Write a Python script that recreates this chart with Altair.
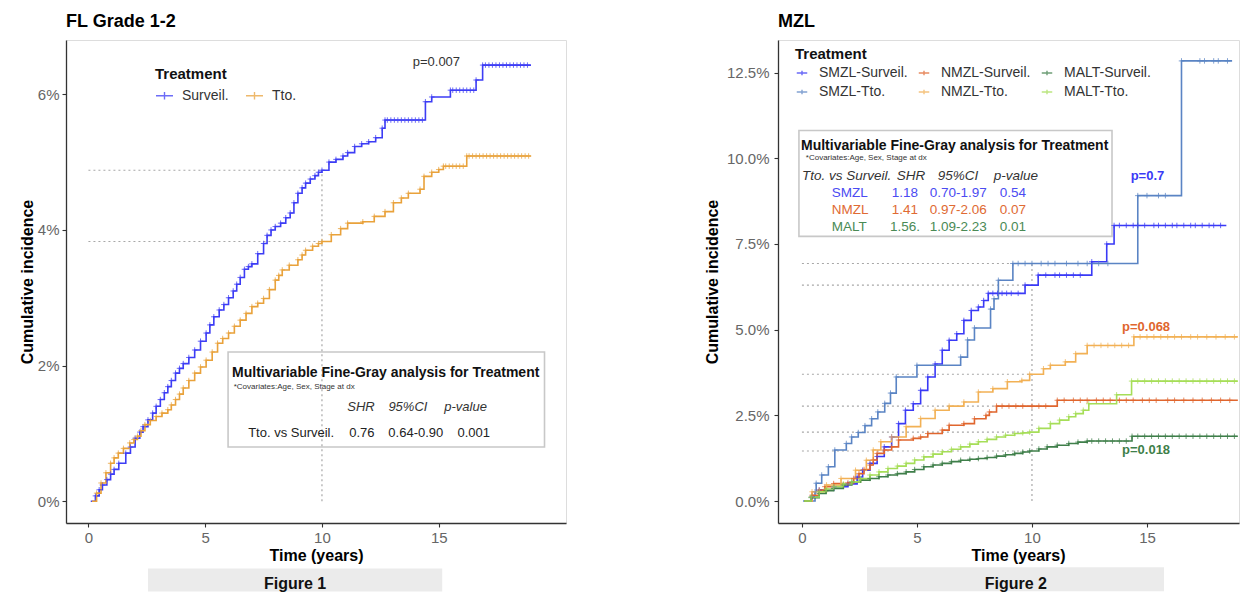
import altair as alt
import pandas as pd

FONT = "Liberation Sans"
PLUS = "M-1,0L1,0M0,-1L0,1"
KEY = "M-1,0L1,0M0,-0.45L0,0.45"

# ---------------- Figure 1 : FL Grade 1-2 ----------------
fl_groups = ["Surveil.", "Tto."]
fl_colors = ["#3D3DF5", "#E9A23B"]

fl_surv_t = [0.1, 0.3, 0.46, 0.6, 0.79, 0.95, 1.1, 1.3, 1.6, 1.8, 2.0, 2.2, 2.34, 2.55, 2.75, 2.9,
             3.08, 3.25, 3.4, 3.55, 3.73, 3.9, 4.06, 4.3, 4.55, 4.8, 5.04, 5.2, 5.37, 5.6, 5.8, 6.0,
             6.2, 6.35, 6.5, 6.68, 6.85, 7.0, 7.25, 7.5, 7.65, 7.82, 8.0, 8.23, 8.45, 8.64, 8.8, 8.97,
             9.15, 9.3, 9.5, 9.7, 9.85, 10.0, 10.3, 10.6, 10.9, 11.1, 11.4, 11.7, 12.0, 12.3, 12.58,
             12.7, 14.43, 14.7, 15.5, 16.6, 16.88, 18.95]
fl_surv_v = [0.0, 0.08, 0.17, 0.24, 0.32, 0.4, 0.47, 0.56, 0.71, 0.8, 0.93, 1.02, 1.1, 1.2, 1.3, 1.4,
             1.5, 1.6, 1.69, 1.78, 1.89, 1.96, 2.03, 2.12, 2.23, 2.36, 2.48, 2.6, 2.72, 2.82, 2.9, 3.0,
             3.1, 3.2, 3.3, 3.42, 3.46, 3.5, 3.65, 3.8, 3.92, 4.0, 4.05, 4.1, 4.18, 4.25, 4.4, 4.54,
             4.62, 4.69, 4.75, 4.8, 4.85, 4.88, 5.0, 5.04, 5.09, 5.14, 5.23, 5.27, 5.3, 5.36, 5.5,
             5.62, 5.89, 5.96, 6.06, 6.21, 6.43, 6.43]
fl_tto_t = [0.15, 0.35, 0.54, 0.75, 0.95, 1.1, 1.28, 1.5, 1.77, 1.95, 2.1, 2.25, 2.42, 2.65, 2.9, 3.15,
            3.4, 3.55, 3.73, 3.9, 4.06, 4.3, 4.55, 4.8, 5.04, 5.3, 5.53, 5.75, 6.0, 6.25, 6.5, 6.75,
            7.0, 7.25, 7.5, 7.75, 8.0, 8.15, 8.3, 8.6, 8.97, 9.15, 9.3, 9.6, 9.85, 10.0, 10.4, 10.8,
            11.1, 11.75, 12.24, 12.7, 13.06, 13.4, 13.7, 14.2, 14.37, 14.7, 15.0, 15.2, 16.2, 18.95]
fl_tto_v = [0.0, 0.12, 0.27, 0.42, 0.56, 0.64, 0.71, 0.78, 0.86, 0.91, 0.96, 1.04, 1.13, 1.19, 1.25, 1.3,
            1.35, 1.42, 1.5, 1.58, 1.67, 1.78, 1.89, 1.98, 2.08, 2.2, 2.33, 2.4, 2.48, 2.58, 2.67, 2.77,
            2.87, 2.92, 2.99, 3.12, 3.26, 3.33, 3.41, 3.48, 3.56, 3.63, 3.7, 3.76, 3.8, 3.83, 3.93, 4.02,
            4.1, 4.12, 4.2, 4.27, 4.4, 4.47, 4.54, 4.6, 4.79, 4.85, 4.89, 4.94, 5.09, 5.09]
fl_censor_tails = {
    "Surveil.": [12.8, 12.95, 13.1, 13.25, 13.4, 13.55, 13.7, 13.85, 14.0, 14.15, 14.3, 15.6, 15.75,
                 15.9, 16.05, 16.2, 16.35, 16.5, 17.0, 17.15, 17.3, 17.45, 17.6, 17.75, 17.9, 18.05,
                 18.2, 18.35, 18.5, 18.65, 18.8],
    "Tto.": [15.3, 15.45, 15.6, 15.75, 15.9, 16.05, 16.3, 16.45, 16.6, 16.75, 16.9, 17.05, 17.2,
             17.35, 17.5, 17.65, 17.8, 17.95, 18.1, 18.25, 18.4, 18.55, 18.7, 18.85],
}
fl_hlines = [4.88, 3.83]
fl_vtop = 4.88

# ---------------- Figure 2 : MZL ----------------
mz_groups = ["SMZL-Surveil.", "SMZL-Tto.", "NMZL-Surveil.", "NMZL-Tto.", "MALT-Surveil.", "MALT-Tto."]
mz_colors = ["#3A3AF6", "#5A84C4", "#E0662E", "#F2B155", "#3F7F4A", "#A6DE58"]

smzl_s_t = [0.1, 0.44, 0.75, 1.38, 2.0, 2.4, 2.64, 2.96, 3.27, 3.58, 3.9, 4.2, 4.5, 4.84, 5.16, 5.47,
            5.79, 6.1, 6.4, 6.73, 7.04, 7.36, 7.67, 7.9, 8.1, 9.7, 10.27, 12.6, 13.25, 13.57, 18.45]
smzl_s_v = [0.0, 0.13, 0.32, 0.42, 0.5, 0.7, 0.9, 1.1, 1.3, 1.58, 1.87, 2.26, 2.65, 2.84, 3.23, 3.62,
            4.0, 4.4, 4.69, 4.88, 5.27, 5.56, 5.66, 5.85, 6.06, 6.3, 6.59, 6.98, 7.5, 8.04, 8.04]
smzl_t_t = [0.05, 0.57, 0.62, 0.86, 1.15, 1.43, 1.93, 2.16, 2.45, 2.74, 3.03, 3.3, 3.6, 3.85, 4.1, 5.0,
            6.9, 7.2, 7.5, 8.2, 8.35, 8.54, 9.17, 14.6, 16.5, 18.7]
smzl_t_v = [0.0, 0.27, 0.52, 0.76, 1.0, 1.49, 1.68, 1.87, 2.0, 2.2, 2.4, 2.6, 2.85, 3.15, 3.62, 3.96,
            4.2, 4.7, 5.05, 5.6, 5.9, 6.44, 6.93, 8.91, 12.84, 12.84]
nmzl_s_t = [0.1, 0.44, 0.75, 1.0, 1.38, 2.0, 2.25, 2.48, 2.7, 2.96, 3.1, 3.27, 3.58, 3.9, 4.2, 4.84,
            5.16, 5.47, 6.1, 6.4, 7.04, 7.5, 8.0, 8.15, 8.46, 11.1, 18.95]
nmzl_s_v = [0.0, 0.17, 0.32, 0.42, 0.51, 0.53, 0.66, 0.8, 0.92, 1.05, 1.2, 1.39, 1.49, 1.58, 1.78, 1.83,
            1.87, 1.97, 2.07, 2.21, 2.26, 2.4, 2.5, 2.6, 2.77, 2.94, 2.94]
nmzl_t_t = [0.1, 0.44, 1.07, 1.7, 2.33, 2.8, 3.1, 3.43, 3.9, 4.53, 5.16, 5.79, 6.4, 7.04, 7.67, 8.3,
            8.93, 9.56, 9.9, 10.5, 10.8, 11.45, 11.9, 12.4, 14.43, 18.95]
nmzl_t_v = [0.0, 0.27, 0.47, 0.66, 0.9, 1.19, 1.49, 1.73, 1.87, 2.17, 2.41, 2.65, 2.77, 2.89, 3.18, 3.28,
            3.48, 3.52, 3.7, 3.86, 3.96, 4.06, 4.3, 4.54, 4.79, 4.79]
malt_s_t = [0.1, 0.4, 0.75, 1.05, 1.38, 1.8, 2.17, 2.55, 2.96, 3.35, 3.74, 4.15, 4.53, 4.9, 5.3, 5.7,
            6.1, 6.5, 6.9, 7.3, 7.67, 8.05, 8.46, 8.85, 9.25, 9.6, 9.9, 10.3, 10.66, 11.1, 11.6, 12.0,
            12.4, 14.35, 18.95]
malt_s_v = [0.0, 0.1, 0.22, 0.3, 0.37, 0.47, 0.56, 0.61, 0.66, 0.71, 0.76, 0.8, 0.85, 0.92, 1.0, 1.05,
            1.1, 1.15, 1.19, 1.22, 1.24, 1.27, 1.31, 1.35, 1.39, 1.43, 1.46, 1.52, 1.58, 1.63, 1.68, 1.72,
            1.75, 1.89, 1.89]
malt_t_t = [0.1, 0.4, 0.75, 1.05, 1.38, 1.8, 2.17, 2.55, 2.96, 3.35, 3.74, 4.15, 4.53, 4.9, 5.3, 5.7,
            6.1, 6.5, 6.9, 7.3, 7.67, 8.05, 8.46, 8.85, 9.25, 9.6, 9.9, 10.3, 10.8, 11.2, 11.6, 11.9,
            12.23, 12.47, 13.68, 14.33, 18.95]
malt_t_v = [0.0, 0.12, 0.27, 0.35, 0.42, 0.5, 0.56, 0.66, 0.76, 0.85, 0.95, 1.02, 1.1, 1.2, 1.29, 1.37,
            1.44, 1.51, 1.58, 1.66, 1.73, 1.8, 1.87, 1.92, 1.97, 1.99, 2.01, 2.12, 2.26, 2.36, 2.46, 2.55,
            2.65, 2.84, 3.1, 3.5, 3.5]
mz_censor_tails = {
    "SMZL-Surveil.": [8.3, 8.5, 8.7, 8.9, 9.1, 9.4, 10.6, 11.0, 11.2, 11.5, 11.8, 12.1, 13.8, 14.1, 14.4,
                      14.6, 14.9, 15.3, 15.5, 15.8, 16.1, 16.3, 16.6, 16.9, 17.1, 17.4, 17.7, 17.9, 18.2],
    "SMZL-Tto.": [9.4, 9.7, 10.0, 10.4, 10.7, 11.0, 11.5, 12.0, 12.4, 12.9, 13.3, 15.0, 15.5, 15.8,
                  17.3, 17.5, 17.9, 18.1, 18.5],
    "NMZL-Surveil.": [8.7, 9.0, 9.3, 9.6, 10.0, 10.3, 10.6, 11.4, 11.8, 12.1, 12.4, 12.8, 13.1, 13.4,
                      13.8, 14.1, 14.4, 14.8, 15.1, 15.4, 15.9, 16.2, 16.6, 17.0, 17.4, 17.8, 18.2, 18.6],
    "NMZL-Tto.": [12.7, 13.0, 13.3, 13.6, 13.9, 14.2, 14.7, 15.0, 15.3, 15.6, 15.9, 16.2, 16.5, 16.9,
                  17.2, 17.6, 18.0, 18.4, 18.8],
    "MALT-Surveil.": [12.6, 12.9, 13.2, 13.5, 13.8, 14.1, 14.6, 14.9, 15.2, 15.5, 15.8, 16.1, 16.4, 16.7,
                      17.0, 17.3, 17.6, 17.9, 18.2, 18.5, 18.8],
    "MALT-Tto.": [14.6, 14.9, 15.2, 15.5, 15.8, 16.1, 16.4, 16.7, 17.0, 17.3, 17.6, 17.9, 18.2, 18.5, 18.8],
}
mz_hlines = [6.93, 6.3, 3.7, 2.77, 2.01, 1.46]
mz_vtop = 6.93


def curve_frame(groups, ts_list, vs_list):
    rows = []
    for g, ts, vs in zip(groups, ts_list, vs_list):
        for t, v in zip(ts, vs):
            rows.append({"t": t, "v": v, "grp": g})
    return pd.DataFrame(rows)


def censor_frame(groups, ts_list, vs_list, tails):
    rows = []
    for g, ts, vs in zip(groups, ts_list, vs_list):
        for t, v in zip(ts[1:-1], vs[1:-1]):
            rows.append({"t": t, "v": v, "grp": g})
        for ct in tails.get(g, []):
            val = vs[0]
            for t, v in zip(ts, vs):
                if t <= ct:
                    val = v
            rows.append({"t": ct, "v": val, "grp": g})
    return pd.DataFrame(rows)


def axis_common():
    return dict(grid=False, domainColor="#333333", domainWidth=1.3, tickColor="#333333", tickWidth=1.1,
                tickSize=4, labelFont=FONT, labelFontSize=15, labelColor="#666666", titleFont=FONT,
                titleFontSize=16, titleFontWeight="bold", titleColor="#000000")


def build_panel(title, groups, colors, curves, censors, xdom, ydom, width, height,
                yvals, ylabexpr, legend, hlines, vtop, table_box, fig_box, fig_label, text_layers,
                xtitle_x=None, ylabpad=3, ytitlepad=2):
    xs = alt.Scale(domain=xdom, nice=False, zero=False)
    ys = alt.Scale(domain=ydom, nice=False, zero=False)
    xextra = {} if xtitle_x is None else {"titleX": xtitle_x}
    xaxis = alt.Axis(values=[0, 5, 10, 15], title="Time (years)", labelPadding=3, titlePadding=2,
                     **xextra, **axis_common())
    yaxis = alt.Axis(values=yvals, labelExpr=ylabexpr, title="Cumulative incidence", labelPadding=ylabpad,
                     titlePadding=ytitlepad, **axis_common())

    def X(f="t"):
        return alt.X(f"{f}:Q", scale=xs, axis=xaxis)

    def Y(f="v"):
        return alt.Y(f"{f}:Q", scale=ys, axis=yaxis)

    cscale = alt.Scale(domain=groups, range=colors)

    box = alt.Chart(pd.DataFrame([table_box])).mark_rect(
        fill="white", stroke="#C8C8C8", strokeWidth=1.6).encode(x=X(), x2="t2:Q", y=Y(), y2="v2:Q")

    fbox = alt.Chart(pd.DataFrame([fig_box])).mark_rect(fill="#EBEBEB").encode(
        x=X(), x2="t2:Q", y=Y(), y2="v2:Q")
    ftext = alt.Chart(pd.DataFrame([fig_label])).mark_text(
        font=FONT, fontSize=16, fontWeight="bold", color="#111111", align="center", baseline="middle"
    ).encode(x=X(), y=Y(), text="label:N")

    h_df = pd.DataFrame({"t": [0.0] * len(hlines), "t2": [10.0] * len(hlines), "v": hlines})
    hr = alt.Chart(h_df).mark_rule(color="#A8A8A8", strokeDash=[2, 3], strokeWidth=1.2).encode(
        x=X(), x2="t2:Q", y=Y())
    v_df = pd.DataFrame({"t": [10.0], "v": [0.0], "v2": [vtop]})
    vr = alt.Chart(v_df).mark_rule(color="#A8A8A8", strokeDash=[2, 3], strokeWidth=1.2).encode(
        x=X(), y=Y(), y2="v2:Q")

    lines = alt.Chart(curves).mark_line(interpolate="step-after", strokeWidth=1.6).encode(
        x=X(), y=Y(), color=alt.Color("grp:N", scale=cscale, legend=legend))
    pts = alt.Chart(censors).mark_point(shape=PLUS, filled=False, size=30, strokeWidth=1,
                                        opacity=0.75).encode(
        x=X(), y=Y(), color=alt.Color("grp:N", scale=cscale, legend=legend))

    layers = [fbox, ftext, box, hr, vr, lines, pts]
    for df, style in text_layers:
        layers.append(alt.Chart(df).mark_text(font=FONT, baseline="middle", **style).encode(
            x=X(), y=Y(), text="label:N"))

    return alt.layer(*layers).properties(
        width=width, height=height,
        title=alt.TitleParams(title, anchor="start", frame="group", font=FONT, fontSize=18,
                              fontWeight="bold", color="#000000", offset=9))


def tdf(ts, vs, labels):
    return pd.DataFrame({"t": ts, "v": vs, "label": labels})


# ---- left panel ----
fl_curves = curve_frame(fl_groups, [fl_surv_t, fl_tto_t], [fl_surv_v, fl_tto_v])
fl_cens = censor_frame(fl_groups, [fl_surv_t, fl_tto_t], [fl_surv_v, fl_tto_v], fl_censor_tails)
fl_legend = alt.Legend(title="Treatment", orient="none", legendX=89, legendY=27, direction="horizontal",
                       padding=0, titleFont=FONT, titleFontSize=15, titleFontWeight="bold",
                       titleColor="#111111", titlePadding=4, labelFont=FONT, labelFontSize=14,
                       labelColor="#333333", symbolType=KEY, symbolSize=289, symbolStrokeWidth=1.4,
                       labelOffset=8, columnPadding=14)
fl_texts = [
    (tdf([6.15], [1.89], ["Multivariable Fine-Gray analysis for Treatment"]),
     dict(align="left", fontSize=14, fontWeight="bold", color="#111111")),
    (tdf([6.22], [1.69], ["*Covariates:Age, Sex, Stage at dx"]),
     dict(align="left", fontSize=8, color="#333333")),
    (tdf([11.67, 13.68, 16.15], [1.39, 1.39, 1.39], ["SHR", "95%CI", "p-value"]),
     dict(align="center", fontSize=13, fontStyle="italic", color="#333333")),
    (tdf([8.68, 11.71, 14.02, 16.5], [1.0, 1.0, 1.0, 1.0], ["Tto. vs Surveil.", "0.76", "0.64-0.90", "0.001"]),
     dict(align="center", fontSize=13, color="#222222")),
    (tdf([14.9], [6.47], ["p=0.007"]), dict(align="center", fontSize=13, color="#333333")),
]
left = build_panel("FL Grade 1-2", fl_groups, fl_colors, fl_curves, fl_cens,
                   [-0.96, 20.45], [-0.32, 6.80], 500, 483, [0, 2, 4, 6], "datum.value + '%'",
                   fl_legend, fl_hlines, fl_vtop,
                   {"t": 5.98, "t2": 19.53, "v": 0.80, "v2": 2.20},
                   {"t": 2.55, "t2": 15.15, "v": -0.99, "v2": -1.33},
                   {"t": 8.85, "v": -1.22, "label": "Figure 1"}, fl_texts)

# ---- right panel ----
mz_ts = [smzl_s_t, smzl_t_t, nmzl_s_t, nmzl_t_t, malt_s_t, malt_t_t]
mz_vs = [smzl_s_v, smzl_t_v, nmzl_s_v, nmzl_t_v, malt_s_v, malt_t_v]
mz_curves = curve_frame(mz_groups, mz_ts, mz_vs)
mz_cens = censor_frame(mz_groups, mz_ts, mz_vs, mz_censor_tails)
mz_legend = alt.Legend(title="Treatment", orient="none", legendX=17, legendY=7, columns=3,
                       padding=0, titleFont=FONT, titleFontSize=15, titleFontWeight="bold",
                       titleColor="#111111", titlePadding=4, labelFont=FONT, labelFontSize=14,
                       labelColor="#333333", symbolType=KEY, symbolSize=110, symbolStrokeWidth=1.4,
                       labelOffset=10, columnPadding=7, rowPadding=5)
row_labels = ["SMZL", "NMZL", "MALT"]
row_shr = ["1.18", "1.41", "1.56."]
row_ci = ["0.70-1.97", "0.97-2.06", "1.09-2.23"]
row_p = ["0.54", "0.07", "0.01"]
row_colors = ["#4B4BF2", "#E06A33", "#4A8A55"]
row_v = [8.99, 8.50, 7.99]
mz_texts = [
    (tdf([-0.04], [10.37], ["Multivariable Fine-Gray analysis for Treatment"]),
     dict(align="left", fontSize=14, fontWeight="bold", color="#111111")),
    (tdf([0.17], [10.0], ["*Covariates:Age, Sex, Stage at dx"]),
     dict(align="left", fontSize=8, color="#333333")),
    (tdf([0.0], [9.48], ["Tto. vs Surveil."]),
     dict(align="left", fontSize=13.5, fontStyle="italic", color="#333333")),
    (tdf([4.74, 6.78, 9.3], [9.48, 9.48, 9.48], ["SHR", "95%CI", "p-value"]),
     dict(align="center", fontSize=13.5, fontStyle="italic", color="#333333")),
]
for i in range(3):
    mz_texts.append((tdf([1.30], [row_v[i]], [row_labels[i]]),
                     dict(align="left", fontSize=13.5, color=row_colors[i])))
    mz_texts.append((tdf([4.48, 6.8, 9.17], [row_v[i]] * 3, [row_shr[i], row_ci[i], row_p[i]]),
                     dict(align="center", fontSize=13.5, color=row_colors[i])))
mz_texts += [
    (tdf([15.02], [9.48], ["p=0.7"]), dict(align="center", fontSize=13, fontWeight="bold", color="#3A3AF6")),
    (tdf([14.96], [5.08], ["p=0.068"]), dict(align="center", fontSize=13, fontWeight="bold", color="#E0662E")),
    (tdf([14.96], [1.49], ["p=0.018"]), dict(align="center", fontSize=13, fontWeight="bold", color="#3F7F4A")),
]
right = build_panel("MZL", mz_groups, mz_colors, mz_curves, mz_cens,
                    [-1.04, 19.0], [-0.64, 13.45], 461, 483, [0, 2.5, 5, 7.5, 10, 12.5],
                    "format(datum.value, '.1f') + '%'",
                    mz_legend, mz_hlines, mz_vtop,
                    {"t": -0.13, "t2": 13.48, "v": 7.72, "v2": 10.81},
                    {"t": 2.83, "t2": 15.74, "v": -1.93, "v2": -2.63},
                    {"t": 9.3, "v": -2.43, "label": "Figure 2"}, mz_texts, xtitle_x=240,
                    ylabpad=5, ytitlepad=6)

chart = alt.hconcat(left, right, spacing=136, padding={"left": 10, "top": 4, "right": 0, "bottom": 0}).resolve_scale(
    x="independent", y="independent", color="independent"
).resolve_legend(color="independent").configure_view(stroke=None).configure(font=FONT, background="white")

chart.save("out.html", embed_options={"renderer": "svg", "actions": False})
